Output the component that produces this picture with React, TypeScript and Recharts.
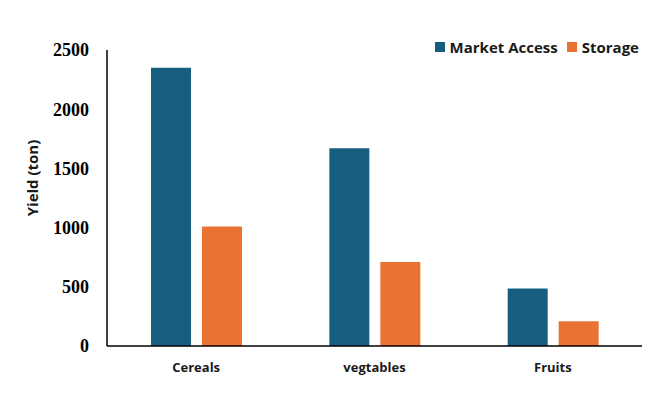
import React from "react";
import {
  BarChart,
  Bar,
  XAxis,
  YAxis,
  Legend,
  Label,
} from "recharts";

const categories = ["Cereals", "vegtables", "Fruits"];
const marketAccess = [2350, 1670, 485];
const storage = [1010, 710, 208];
const yTicks = [0, 500, 1000, 1500, 2000, 2500];

const BLUE = "#165e80";
const ORANGE = "#ea7234";

const data = categories.map((name, i) => ({
  name,
  market: marketAccess[i],
  storage: storage[i],
}));

const legendItems = [
  { label: "Market Access", color: BLUE },
  { label: "Storage", color: ORANGE },
];

function LegendContent() {
  return (
    <div
      style={{
        display: "flex",
        justifyContent: "flex-end",
        fontFamily: "'Open Sans', sans-serif",
        fontWeight: 700,
        fontSize: 15,
        color: "#1a1a1a",
        height: 20,
      }}
    >
      {legendItems.map((it) => (
        <div key={it.label} style={{ display: "flex", alignItems: "center", marginLeft: 9 }}>
          <span
            style={{
              display: "inline-block",
              width: 10,
              height: 10,
              background: it.color,
              marginRight: 5,
            }}
          />
          {it.label}
        </div>
      ))}
    </div>
  );
}

export default function App() {
  return (
    <div style={{ position: "absolute", left: 0, top: 0, background: "#fff" }}>
      <BarChart
        width={657}
        height={405}
        data={data}
        margin={{ top: 30, right: 15, bottom: 29, left: 0 }}
        barSize={40}
        barGap={11}
      >
        <XAxis
          dataKey="name"
          height={30}
          axisLine={{ stroke: "#000", strokeWidth: 1.5 }}
          tickLine={false}
          tick={{
            fill: "#1a1a1a",
            fontSize: 13,
            fontWeight: 700,
            fontFamily: "'Open Sans', sans-serif",
            dy: 9,
          }}
        />
        <YAxis
          width={107}
          domain={[0, 2500]}
          ticks={yTicks}
          interval={0}
          axisLine={{ stroke: "#000", strokeWidth: 1.5 }}
          tickLine={false}
          tickMargin={12}
          tick={{
            fill: "#000",
            fontSize: 18,
            fontWeight: 700,
            fontFamily: "'Liberation Serif', serif",
          }}
        >
          <Label
            value="Yield (ton)"
            angle={-90}
            position="insideLeft"
            offset={33}
            dy={-20}
            style={{
              textAnchor: "middle",
              fill: "#1a1a1a",
              fontSize: 15,
              fontWeight: 700,
              fontFamily: "'Open Sans', sans-serif",
            }}
          />
        </YAxis>
        <Legend
          verticalAlign="top"
          align="right"
          content={<LegendContent />}
          wrapperStyle={{ top: 37, right: 18, width: "auto" }}
        />
        <Bar dataKey="market" name="Market Access" fill={BLUE} isAnimationActive={false} />
        <Bar dataKey="storage" name="Storage" fill={ORANGE} isAnimationActive={false} />
      </BarChart>
    </div>
  );
}
